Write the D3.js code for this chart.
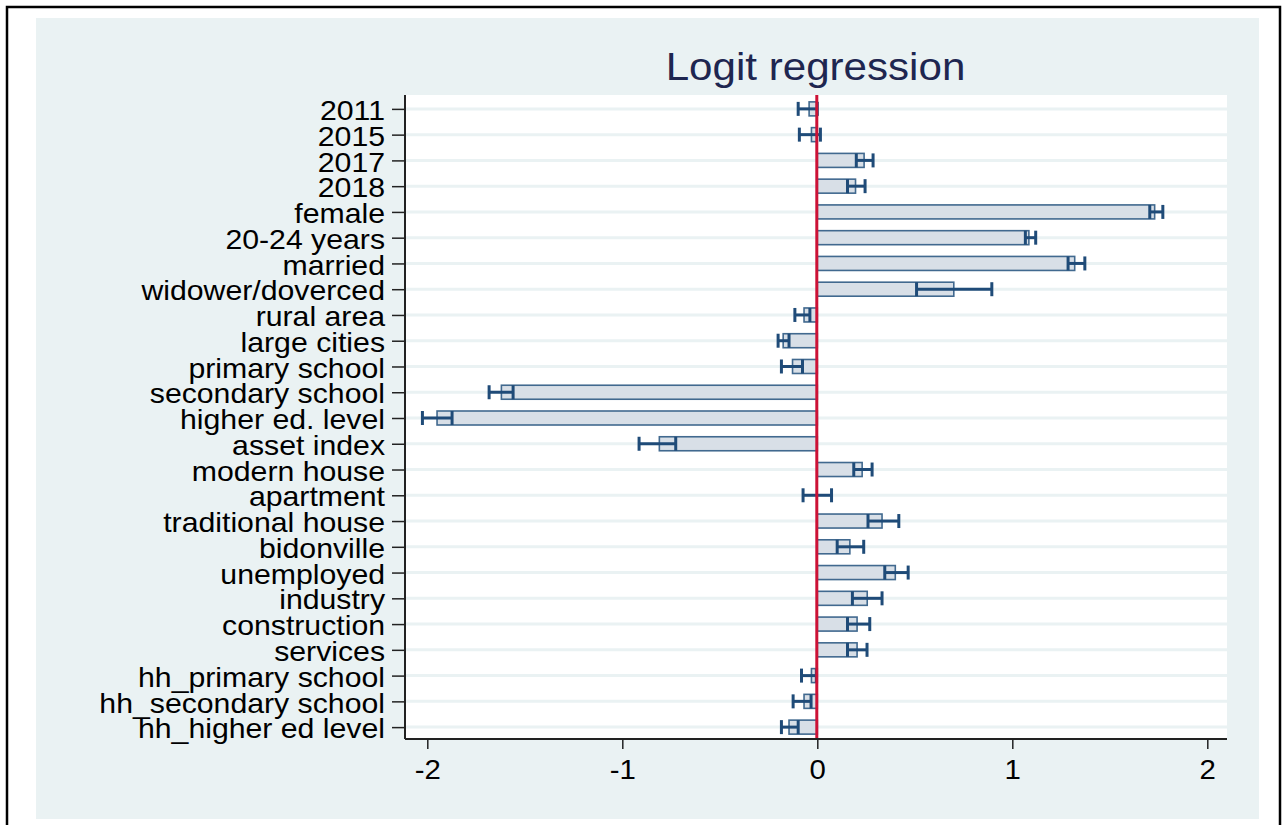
<!DOCTYPE html>
<html>
<head>
<meta charset="utf-8">
<script src="https://cdn.jsdelivr.net/npm/d3@7"></script>
<style>
  html, body { margin: 0; padding: 0; background: #ffffff; }
  svg { display: block; }
  text { font-family: "Liberation Sans", Arial, Helvetica, sans-serif; }
</style>
</head>
<body>
<svg id="chart" width="1286" height="825"></svg>
<script>
// Logit coefficients with 95% confidence intervals
const categories = [
  "2011", "2015", "2017", "2018", "female", "20-24 years", "married",
  "widower/doverced", "rural area", "large cities", "primary school",
  "secondary school", "higher ed. level", "asset index", "modern house",
  "apartment", "traditional house", "bidonville", "unemployed", "industry",
  "construction", "services", "hh_primary school", "hh_secondary school",
  "hh_higher ed level"
];
const coefs = [
  -0.042, -0.03, 0.24, 0.196, 1.73, 1.085, 1.32,
  0.70, -0.068, -0.175, -0.127,
  -1.62, -1.95, -0.81, 0.23,
  0.0, 0.332, 0.167, 0.40, 0.256,
  0.204, 0.204, -0.03, -0.068,
  -0.145
];
const lower = [
  -0.098, -0.092, 0.20, 0.155, 1.705, 1.067, 1.286,
  0.509, -0.115, -0.201, -0.184,
  -1.683, -2.025, -0.914, 0.187,
  -0.073, 0.26, 0.102, 0.346, 0.18,
  0.155, 0.155, -0.081, -0.124,
  -0.184
];
const upper = [
  0.0, 0.016, 0.286, 0.245, 1.772, 1.12, 1.372,
  0.895, -0.038, -0.145, -0.076,
  -1.56, -1.873, -0.726, 0.281,
  0.073, 0.418, 0.238, 0.466, 0.332,
  0.269, 0.255, -0.005, -0.032,
  -0.098
];
const xTicks = [-2, -1, 0, 1, 2];
const titleText = "Logit regression";

const rows = categories.map((c, i) => ({ cat: c, coef: coefs[i], lo: lower[i], hi: upper[i] }));

const svg = d3.select("#chart");
const textStretch = 1.08; // labels are set slightly wide

// frame and background panel
svg.append("rect").attr("x", 7).attr("y", 7).attr("width", 1273).attr("height", 830)
  .attr("fill", "#ffffff").attr("stroke", "#000000").attr("stroke-width", 2.5);
svg.append("rect").attr("x", 36).attr("y", 18).attr("width", 1223).attr("height", 801)
  .attr("fill", "#eaf2f3");

const plot = { left: 405, right: 1227, top: 95, bottom: 739 };

const x = d3.scaleLinear().domain([-2, 2]).range([427.3, 1207.3]);
const y = d3.scalePoint().domain(categories).range([plot.top + 1, plot.bottom + 1]).padding(0.5);

// plot region
svg.append("rect")
  .attr("x", plot.left).attr("y", plot.top)
  .attr("width", plot.right - plot.left).attr("height", plot.bottom - plot.top)
  .attr("fill", "#ffffff");

// horizontal gridlines
svg.append("g").selectAll("line").data(categories).join("line")
  .attr("x1", plot.left).attr("x2", plot.right)
  .attr("y1", d => y(d)).attr("y2", d => y(d))
  .attr("stroke", "#eaf2f3").attr("stroke-width", 3);

// coefficient bars
const barH = 14;
svg.append("g").selectAll("rect").data(rows.filter(d => d.coef !== 0)).join("rect")
  .attr("x", d => x(Math.min(0, d.coef)))
  .attr("y", d => y(d.cat) - barH / 2)
  .attr("width", d => Math.abs(x(d.coef) - x(0)))
  .attr("height", barH)
  .attr("fill", "#d8dfe7")
  .attr("stroke", "#41698f")
  .attr("stroke-width", 1.6);

// confidence intervals with caps
const ciColor = "#1f4b78";
const ci = svg.append("g").attr("stroke", ciColor).attr("stroke-width", 3);
ci.selectAll("line.range").data(rows).join("line").attr("class", "range")
  .attr("x1", d => x(d.lo)).attr("x2", d => x(d.hi))
  .attr("y1", d => y(d.cat)).attr("y2", d => y(d.cat));
ci.selectAll("line.capLo").data(rows).join("line").attr("class", "capLo")
  .attr("x1", d => x(d.lo)).attr("x2", d => x(d.lo))
  .attr("y1", d => y(d.cat) - 7).attr("y2", d => y(d.cat) + 7);
ci.selectAll("line.capHi").data(rows).join("line").attr("class", "capHi")
  .attr("x1", d => x(d.hi)).attr("x2", d => x(d.hi))
  .attr("y1", d => y(d.cat) - 7).attr("y2", d => y(d.cat) + 7);

// reference line at zero
svg.append("line")
  .attr("x1", x(0) - 0.5).attr("x2", x(0) - 0.5)
  .attr("y1", plot.top).attr("y2", plot.bottom)
  .attr("stroke", "#cc1236").attr("stroke-width", 3);

// y axis
const yAxis = svg.append("g")
  .attr("transform", `translate(${plot.left},0)`)
  .call(d3.axisLeft(y).tickSize(13).tickPadding(7));
yAxis.select(".domain").attr("d", `M0,${plot.top}V${plot.bottom}`)
  .attr("stroke", "#222").attr("stroke-width", 2);
yAxis.selectAll(".tick line").attr("stroke", "#222").attr("stroke-width", 1.5);
yAxis.selectAll(".tick text")
  .attr("font-size", 28).attr("fill", "#000").attr("dy", "0.38em")
  .attr("x", 0)
  .attr("transform", `translate(-20,0) scale(${textStretch},1)`)
  .style("font-family", "'Liberation Sans', Arial, sans-serif");

// x axis
const xAxis = svg.append("g")
  .attr("transform", `translate(0,${plot.bottom})`)
  .call(d3.axisBottom(x).tickValues(xTicks).tickFormat(d3.format("d")).tickSize(10).tickPadding(10));
xAxis.select(".domain").attr("d", `M${plot.left},0H${plot.right}`)
  .attr("stroke", "#222").attr("stroke-width", 2);
xAxis.selectAll(".tick line").attr("stroke", "#222").attr("stroke-width", 1.5);
xAxis.selectAll(".tick text")
  .attr("font-size", 28).attr("fill", "#000")
  .attr("transform", "scale(1.05,1)")
  .text(d => d < 0 ? "-" + Math.abs(d) : String(d))
  .style("font-family", "'Liberation Sans', Arial, sans-serif");

// title
svg.append("text")
  .attr("transform", `translate(815.5,80) scale(${textStretch},1)`)
  .attr("text-anchor", "middle")
  .attr("font-size", 39)
  .attr("fill", "#1e2650")
  .text(titleText);
</script>
</body>
</html>
